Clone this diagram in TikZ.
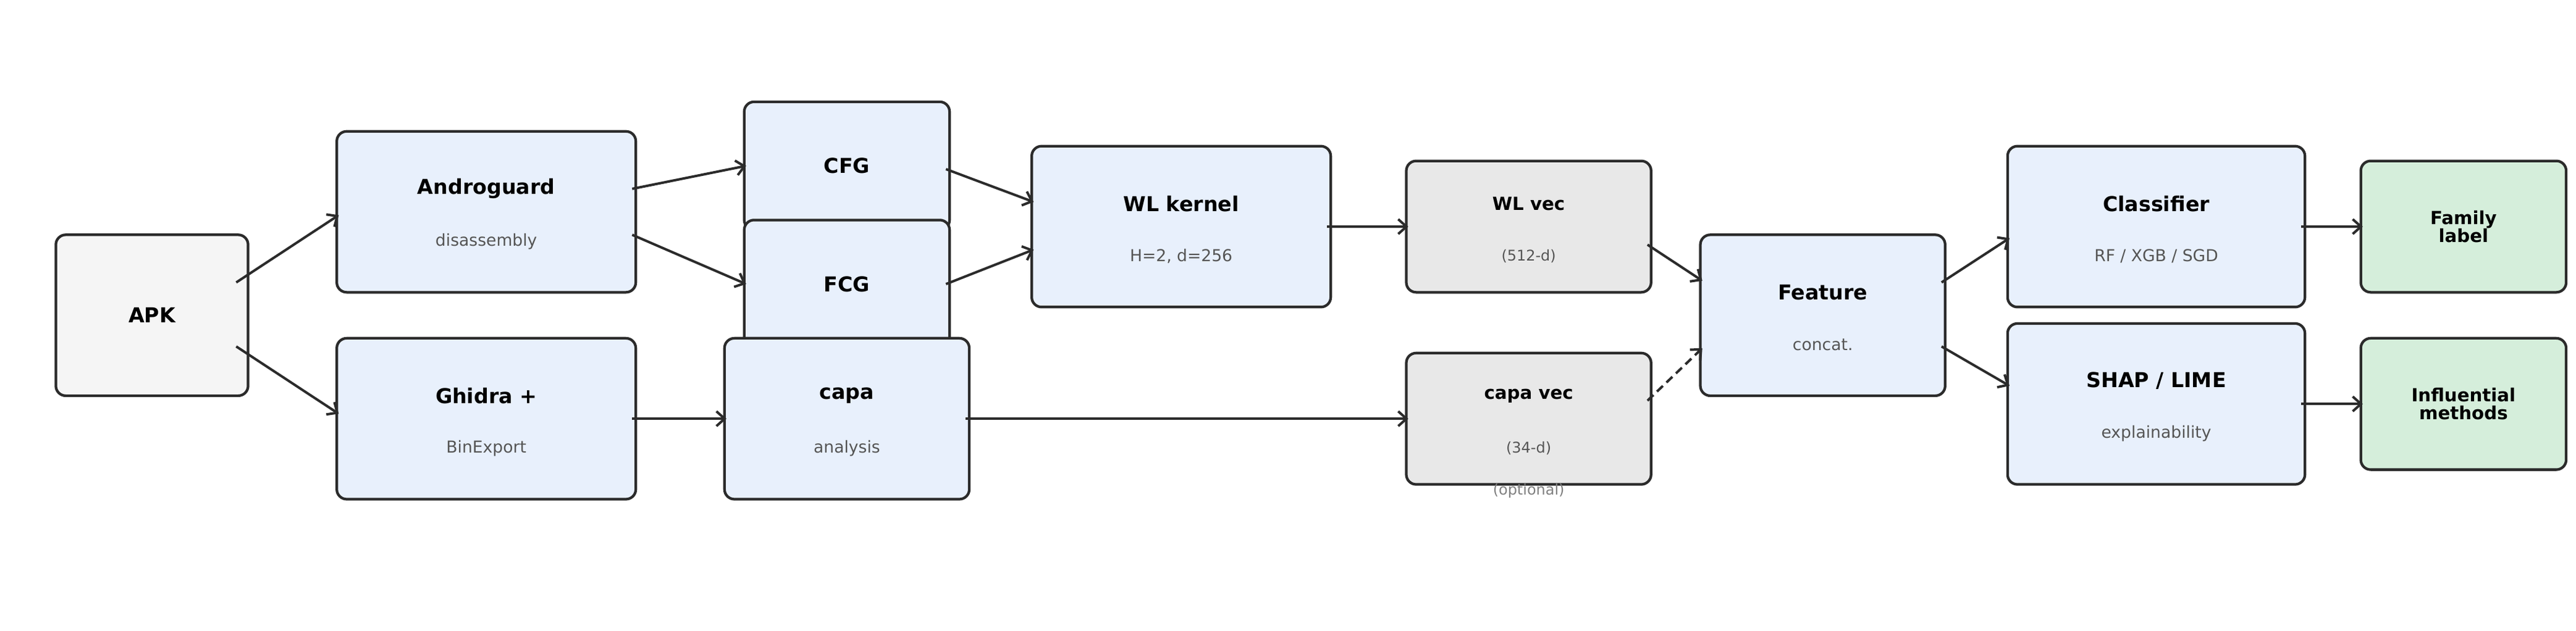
\documentclass[tikz,border=0pt]{standalone}
\usepackage{fontspec}
\setmainfont{DejaVu Sans}
\usetikzlibrary{arrows.meta,calc}
\definecolor{bluef}{HTML}{E8F0FC}
\definecolor{grayf}{HTML}{E8E8E8}
\definecolor{apkf}{HTML}{F5F5F5}
\definecolor{greenf}{HTML}{D5EEDB}
\definecolor{edge}{HTML}{2B2B2B}
\definecolor{subc}{HTML}{555555}
\begin{document}
\begin{tikzpicture}[x=1pt,y=-1pt,
 box/.style={draw=edge,line width=1.6pt,rounded corners=6pt,inner sep=0pt},
 ttl/.style={font=\bfseries\fontsize{12.5}{14}\selectfont,text=black},
 sttl/.style={font=\bfseries\fontsize{11}{13}\selectfont,text=black,align=center},
 sub/.style={font=\fontsize{10}{12}\selectfont,text=subc},
 ssub/.style={font=\fontsize{9}{11}\selectfont,text=subc},
 arr/.style={-{Straight Barb[length=5pt,width=9pt]},line width=1.5pt,draw=edge}]
\useasboundingbox (0,0) rectangle (1568,384);
\node[box,fill=apkf,minimum width=117,minimum height=98] (apk) at (92.5,192) {};
\node[ttl] (apkt) at (apk) {APK};
\node[box,fill=bluef,minimum width=182,minimum height=98] (andro) at (296,129) {};
\node[ttl] (androt) at ($(andro)+(0,-14)$) {Androguard};
\node[sub] (andros) at ($(andro)+(0,18)$) {disassembly};
\node[box,fill=bluef,minimum width=182,minimum height=98] (ghidra) at (296,255) {};
\node[ttl] (ghidrat) at ($(ghidra)+(0,-14)$) {Ghidra +};
\node[sub] (ghidras) at ($(ghidra)+(0,18)$) {BinExport};
\node[box,fill=bluef,minimum width=125,minimum height=78] (cfg) at (515.5,101) {};
\node[ttl] (cfgt) at (cfg) {CFG};
\node[box,fill=bluef,minimum width=125,minimum height=78] (fcg) at (515.5,173) {};
\node[ttl] (fcgt) at (fcg) {FCG};
\node[box,fill=bluef,minimum width=149,minimum height=98] (capa) at (515.5,255) {};
\node[ttl] (capat) at ($(capa)+(0,-14)$) {capa};
\node[sub] (capas) at ($(capa)+(0,18)$) {analysis};
\node[box,fill=bluef,minimum width=182,minimum height=98] (wl) at (719,138) {};
\node[ttl] (wlt) at ($(wl)+(0,-14)$) {WL kernel};
\node[sub] (wls) at ($(wl)+(0,18)$) {H=2, d=256};
\node[box,fill=grayf,minimum width=149,minimum height=80] (wlv) at (930.5,138) {};
\node[sttl] (wlvt) at ($(wlv)+(0,-14)$) {WL vec};
\node[ssub] (wlvs) at ($(wlv)+(0,18)$) {(512-d)};
\node[box,fill=grayf,minimum width=149,minimum height=80] (cv) at (930.5,255) {};
\node[sttl] (cvt) at ($(cv)+(0,-14)$) {capa vec};
\node[ssub] (cvs) at ($(cv)+(0,18)$) {(34-d)};
\node[ssub,text=gray] (opt) at (930.5,299) {(optional)};
\node[box,fill=bluef,minimum width=149,minimum height=98] (feat) at (1109.5,192) {};
\node[ttl] (featt) at ($(feat)+(0,-14)$) {Feature};
\node[sub] (feats) at ($(feat)+(0,18)$) {concat.};
\node[box,fill=bluef,minimum width=181,minimum height=98] (cls) at (1312.5,138) {};
\node[ttl] (clst) at ($(cls)+(0,-14)$) {Classifier};
\node[sub] (clss) at ($(cls)+(0,18)$) {RF / XGB / SGD};
\node[box,fill=bluef,minimum width=181,minimum height=98] (shap) at (1312.5,246) {};
\node[ttl] (shapt) at ($(shap)+(0,-14)$) {SHAP / LIME};
\node[sub] (shaps) at ($(shap)+(0,18)$) {explainability};
\node[box,fill=greenf,minimum width=125,minimum height=80] (fam) at (1499.5,138) {};
\node[sttl] (famt) at (fam) {Family\\[-2pt]label};
\node[box,fill=greenf,minimum width=125,minimum height=80] (inf) at (1499.5,246) {};
\node[sttl] (inft) at (inf) {Influential\\[-2pt]methods};
\draw[arr] ($(apk.east)+(-8,-20)$) -- ($(andro.west)+(2,2)$);
\draw[arr] ($(apk.east)+(-8,19)$) -- ($(ghidra.west)+(2,-3)$);
\draw[arr] ($(andro.east)+(-3,-14)$) -- ($(cfg.west)+(2,0)$);
\draw[arr] ($(andro.east)+(-3,14)$) -- ($(fcg.west)+(2,0)$);
\draw[arr] ($(ghidra.east)+(-3,0)$) -- ($(capa.west)+(2,0)$);
\draw[arr] ($(cfg.east)+(-3,2)$) -- ($(wl.west)+(2,-15)$);
\draw[arr] ($(fcg.east)+(-3,0)$) -- ($(wl.west)+(2,14)$);
\draw[arr] ($(wl.east)+(-3,0)$) -- ($(wlv.west)+(2,0)$);
\draw[arr] ($(capa.east)+(-3,0)$) -- ($(cv.west)+(2,0)$);
\draw[arr] ($(wlv.east)+(-3,11)$) -- ($(feat.west)+(2,-21)$);
\draw[arr,dash pattern=on 5pt off 3pt] ($(cv.east)+(-3,-11)$) -- ($(feat.west)+(2,20)$);
\draw[arr] ($(feat.east)+(-3,-20)$) -- ($(cls.west)+(2,7)$);
\draw[arr] ($(feat.east)+(-3,19)$) -- ($(shap.west)+(2,-11)$);
\draw[arr] ($(cls.east)+(-3,0)$) -- ($(fam.west)+(2,0)$);
\draw[arr] ($(shap.east)+(-3,0)$) -- ($(inf.west)+(2,0)$);
\end{tikzpicture}
\end{document}
